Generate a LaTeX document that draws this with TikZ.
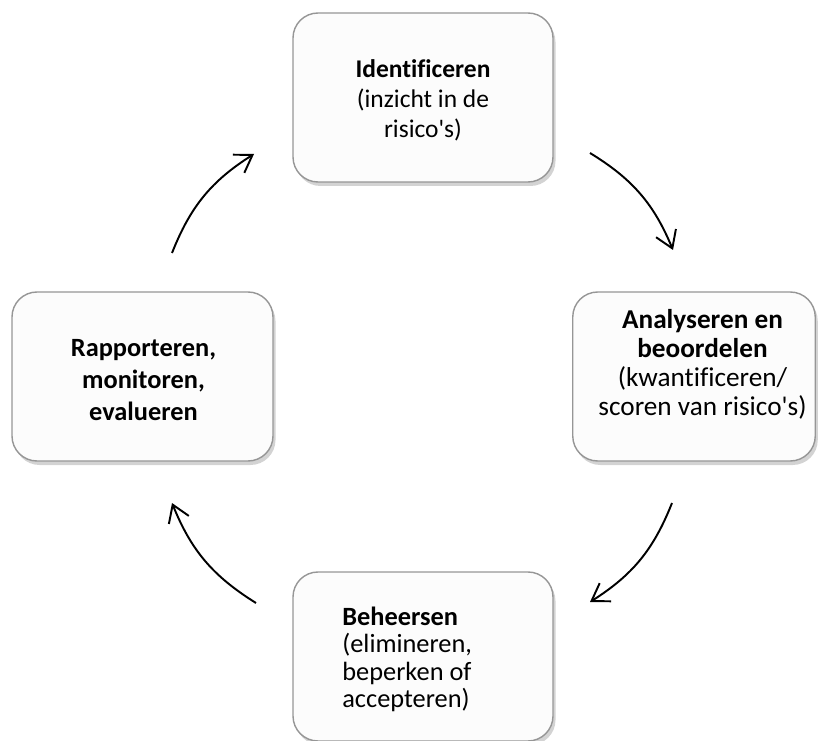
\documentclass[tikz,border=0pt]{standalone}
\usepackage{fontspec}
\setmainfont[Ligatures={TeX,NoCommon}]{Carlito}
\usetikzlibrary{arrows.meta, positioning, shadows}
\definecolor{boxline}{RGB}{150,150,150}
\definecolor{boxfill}{RGB}{252,252,252}

\begin{document}
\begin{tikzpicture}[
    stagebox/.style={draw=boxline, line width=0.8pt, fill=boxfill, rounded corners=0.5cm,
        minimum width=5.2cm, minimum height=3.38cm,
        drop shadow={shadow xshift=0.05cm, shadow yshift=-0.08cm, opacity=0.35}},
    stagetext/.style={font=\fontsize{14.5}{17}\selectfont, align=center, inner sep=0pt},
    cycarrow/.style={-{Straight Barb[length=3.3mm,width=4.3mm]}, line width=1.1pt}
]
    \useasboundingbox (0,0) rectangle (16.48,14.8);

    % Boxes
    \node[stagebox] (ident) at (8.46,12.85) {};
    \node[stagebox, minimum width=4.85cm] (analyse) at (13.88,7.27) {};
    \node[stagebox] (beheer) at (8.46,1.67) {};
    \node[stagebox, minimum width=5.22cm] (rapport) at (2.85,7.27) {};

    % Texts
    \node[stagetext] (identtxt) at (8.46,12.8) {\textbf{Identificeren}\\(inzicht in de\\risico\textquotesingle s)};
    \node[stagetext, font=\fontsize{15.5}{16.5}\selectfont] (analysetxt) at (14.05,7.52) {\textbf{Analyseren en}\\\textbf{beoordelen}\\(kwantificeren/\\scoren van risico\textquotesingle s)};
    \node[stagetext, align=left, anchor=west, font=\fontsize{15}{15.6}\selectfont] (beheertxt) at (6.84,1.61) {\textbf{Beheersen}\\(elimineren,\\beperken of\\accepteren)};
    \node[stagetext, font=\bfseries\fontsize{15}{18}\selectfont] (rapporttxt) at (2.87,7.2) {Rapporteren,\\monitoren,\\evalueren};

    % Arrow ends
    \coordinate (a1) at (3.44,9.74);  \coordinate (b1) at (5.08,11.72);
    \coordinate (a2) at (11.8,11.74); \coordinate (b2) at (13.46,9.8);
    \coordinate (a3) at (13.44,4.74); \coordinate (b3) at (11.8,2.76);
    \coordinate (a4) at (5.12,2.74);  \coordinate (b4) at (3.44,4.74);

    % Cycle
    \foreach \i in {1,...,4} {
        \draw[cycarrow] (a\i) to[bend left=18] (b\i);
    }
\end{tikzpicture}
\end{document}
